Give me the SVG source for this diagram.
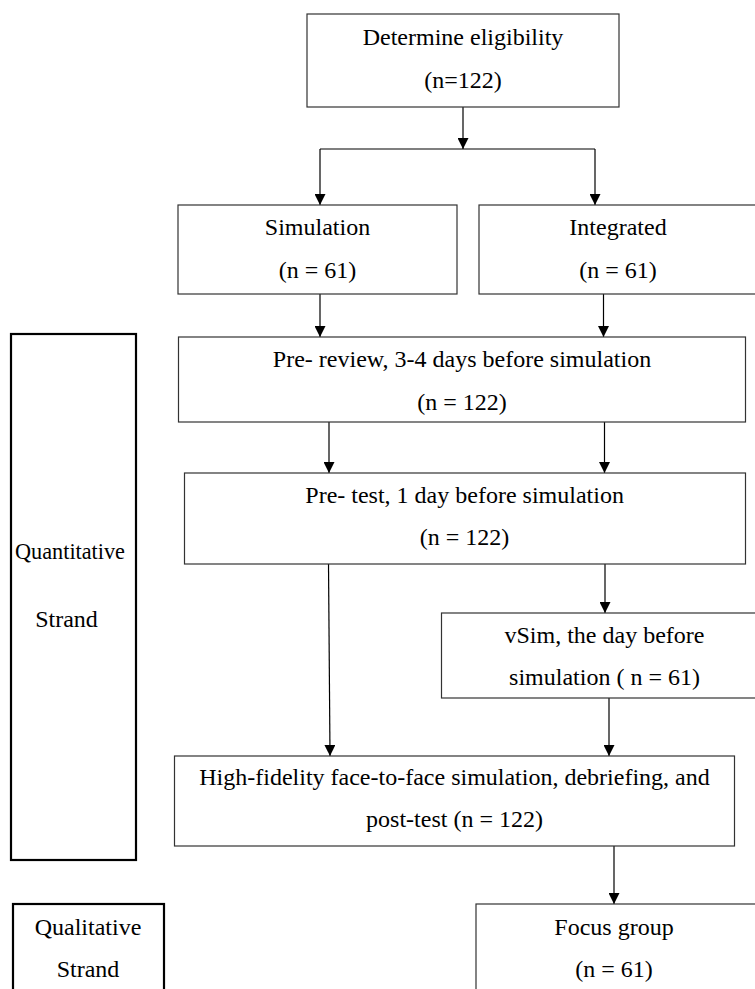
<svg xmlns="http://www.w3.org/2000/svg" width="755" height="989" viewBox="0 0 755 989">
<style>
.box{fill:#fff;stroke:#333;stroke-width:1.2}
.strand{fill:#fff;stroke:#000;stroke-width:2.2}
.t{font-family:'Liberation Serif','Times New Roman','DejaVu Serif',serif;font-size:24px;fill:#000;text-anchor:middle}
.c{fill:none;stroke:#000;stroke-width:1.2}
</style>
<defs>
<marker id="ah" markerUnits="userSpaceOnUse" markerWidth="11" markerHeight="11" refX="11" refY="5.5" orient="auto">
<path d="M0,0 L11,5.5 L0,11 z" fill="#000"/>
</marker>
</defs>
<rect width="755" height="989" fill="#fff"/>
<g id="connectors">
<line class="c" x1="463" y1="107" x2="463" y2="149" marker-end="url(#ah)"/>
<line class="c" x1="320" y1="149" x2="595" y2="149"/>
<line class="c" x1="320" y1="149" x2="320" y2="205" marker-end="url(#ah)"/>
<line class="c" x1="595" y1="149" x2="595" y2="205" marker-end="url(#ah)"/>
<line class="c" x1="320" y1="294" x2="320" y2="337" marker-end="url(#ah)"/>
<line class="c" x1="603.5" y1="294" x2="603.5" y2="337" marker-end="url(#ah)"/>
<line class="c" x1="329" y1="422" x2="329" y2="473" marker-end="url(#ah)"/>
<line class="c" x1="604.5" y1="422" x2="604.5" y2="473" marker-end="url(#ah)"/>
<line class="c" x1="328.5" y1="564" x2="330" y2="756" marker-end="url(#ah)"/>
<line class="c" x1="605" y1="564" x2="605" y2="613" marker-end="url(#ah)"/>
<line class="c" x1="609" y1="698" x2="609" y2="756" marker-end="url(#ah)"/>
<line class="c" x1="614" y1="846" x2="614" y2="904" marker-end="url(#ah)"/>
</g>
<g id="determine">
<rect class="box" x="307" y="14" width="312" height="93"/>
<text class="t" x="463" y="45">Determine eligibility</text>
<text class="t" x="463" y="88">(n=122)</text>
</g>
<g id="simulation">
<rect class="box" x="178" y="205" width="279" height="89"/>
<text class="t" x="317.5" y="235">Simulation</text>
<text class="t" x="317.5" y="278">(n = 61)</text>
</g>
<g id="integrated">
<rect class="box" x="479" y="205" width="290" height="89"/>
<text class="t" x="618" y="235">Integrated</text>
<text class="t" x="618" y="278">(n = 61)</text>
</g>
<g id="prereview">
<rect class="box" x="178.5" y="337" width="567" height="85"/>
<text class="t" x="462" y="367">Pre- review, 3-4 days before simulation</text>
<text class="t" x="462" y="410">(n = 122)</text>
</g>
<g id="pretest">
<rect class="box" x="184.5" y="473" width="561" height="91"/>
<text class="t" x="464.6" y="503">Pre- test, 1 day before simulation</text>
<text class="t" x="464.6" y="545">(n = 122)</text>
</g>
<g id="vsim">
<rect class="box" x="441.5" y="613" width="330" height="85"/>
<text class="t" x="604.5" y="643">vSim, the day before</text>
<text class="t" x="604.5" y="685">simulation ( n = 61)</text>
</g>
<g id="highfidelity">
<rect class="box" x="174.5" y="756" width="560" height="90"/>
<text class="t" x="454.5" y="785">High-fidelity face-to-face simulation, debriefing, and</text>
<text class="t" x="454.5" y="827">post-test (n = 122)</text>
</g>
<g id="focus">
<rect class="box" x="476" y="904" width="300" height="100"/>
<text class="t" x="614" y="935">Focus group</text>
<text class="t" x="614" y="977">(n = 61)</text>
</g>
<g id="quantitative">
<rect class="strand" x="11" y="334" width="125" height="526"/>
<text class="t" x="70" y="559" textLength="110" lengthAdjust="spacingAndGlyphs">Quantitative</text>
<text class="t" x="66.5" y="627">Strand</text>
</g>
<g id="qualitative">
<rect class="strand" x="13" y="904" width="151" height="100"/>
<text class="t" x="88" y="935">Qualitative</text>
<text class="t" x="88" y="977">Strand</text>
</g>
</svg>
